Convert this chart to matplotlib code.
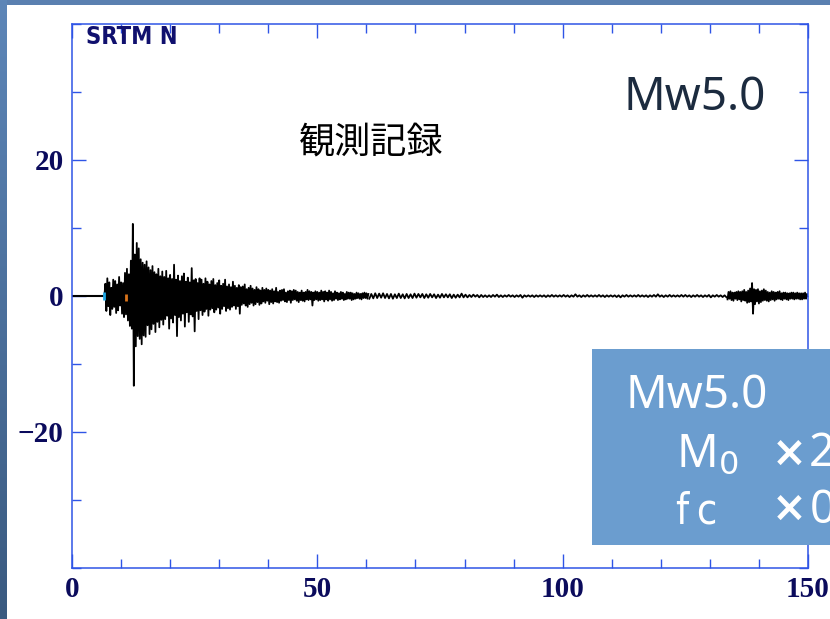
import numpy as np
import matplotlib
matplotlib.use('Agg')
import matplotlib.pyplot as plt
from matplotlib import font_manager
from matplotlib.patches import Rectangle
from matplotlib.ticker import MultipleLocator, FixedLocator


# station / component and record info
station = 'SRTM N'
title_jp = '観測記録'
mw_label = 'Mw5.0'

# time axis limits and ticks (s)
x_lim = [0, 150]
x_major = [0, 50, 100, 150]
y_lim = [-40, 40]
y_major = [-20, 0, 20]

# phase picks (s)
p_time = 6.5
s_time = 11.0

# quiet part before the P arrival
pre_t = [0.0, 6.6]
pre_v = [0.0, 0.0]

# main shaking, sampled every 0.2 s from 6.6 s
main_t0 = 6.6
main_dt = 0.2
main_v = [
    0.0, 1.8, -2.2, 2.6, -1.5, 2.0, -2.8, 1.2, -1.9, 2.4,
    -1.6, 2.2, -2.5, 1.7, -2.1, 2.8, -1.4, 2.0, -2.6, 1.9,
    -3.1, 3.4, -2.7, 4.0, -3.6, 3.2, -4.4, 5.2, -4.8, 10.6,
    -13.2, 6.1, -7.4, 7.8, -5.9, 7.0, -6.3, 5.4, -7.1, 4.9,
    -5.8, 4.6, -6.0, 5.1, -4.3, 4.2, -5.6, 3.8, -4.9, 4.4,
    -4.1, 3.5, -5.3, 3.2, -3.8, 4.0, -4.6, 2.9, -3.5, 3.6,
    -4.2, 2.8, -3.4, 3.7, -2.9, 2.6, -4.8, 3.1, -3.3, 2.5,
    -3.9, 4.6, -2.8, 2.4, -5.9, 3.0, -3.1, 2.2, -3.6, 2.9,
    -2.6, 3.3, -4.5, 2.1, -2.4, 2.7, -3.8, 2.0, -2.7, 4.1,
    -3.0, 2.3, -5.2, 2.5, -2.2, 1.9, -3.4, 2.6, -2.1, 2.4,
    -2.8, 1.8, -2.3, 2.6, -1.9, 2.1, -2.9, 1.7, -2.0, 2.2,
    -1.8, 2.5, -2.4, 1.6, -2.0, 1.9, -1.7, 2.3, -2.6, 1.5,
    -1.9, 1.8, -1.5, 2.4, -2.2, 1.4, -1.8, 1.7, -2.0, 1.3,
    -1.6, 2.1, -1.4, 1.5, -1.9, 1.2, -1.5, 1.6, -2.6, 1.3,
    -1.3, 1.4, -1.1, 1.7, -1.4, 1.0, -1.6, 1.2, -1.2, 1.5,
    -1.0, 1.1, -1.4, 0.9, -1.2, 1.3, -0.9, 1.0, -1.3, 0.8,
    -1.1, 1.2, -0.8, 0.9, -1.0, 1.1, -0.7, 0.9, -1.2, 0.8,
    -0.9, 1.0, -1.1, 0.7, -0.8, 1.2, -0.9, 0.6, -1.0, 0.8,
    -0.7, 0.9, -0.6, 1.0, -0.8, 0.5, -0.9, 0.7, -0.6, 0.8,
    -1.0, 0.7, -0.6, 0.9, -0.5, 0.8, -0.7, 0.6, -0.9, 0.5,
    -0.6, 0.8, -0.7, 0.5, -0.8, 0.6, -0.5, 0.9, -0.6, 0.7,
    -0.5, 0.6, -1.4, 0.5, -0.6, 0.7, -0.5, 0.6, -0.7, 0.5,
    -0.6, 0.8, -0.5, 0.6, -0.8, 0.7, -0.5, 0.5, -0.7, 0.8,
    -0.5, 0.6, -0.7, 0.4, -0.6, 0.7, -0.4, 0.5, -0.6, 0.4,
    -0.5, 0.6, -0.4, 0.5, -0.6, 0.3, -0.5, 0.6, -0.4, 0.5,
    -0.4, 0.5, -0.6, 0.4, -0.5, 0.3, -0.4, 0.5, -0.3, 0.4,
    -0.4, 0.3, -0.5, 0.4, -0.3, 0.5, -0.3, 0.4, -0.4, 0.3,
]

# coda, every 0.4 s from 60.6 s
coda_t0 = 60.6
coda_dt = 0.4
coda_v = [
    -0.4, 0.3, -0.35, 0.4, -0.3, 0.35, -0.25, 0.4, -0.3, 0.3,
    -0.35, 0.3, -0.4, 0.25, -0.3, 0.35, -0.3, 0.25, -0.35, 0.3,
    -0.3, 0.25, -0.3, 0.35, -0.25, 0.3, -0.2, 0.3, -0.3, 0.25,
    -0.25, 0.3, -0.2, 0.25, -0.3, 0.2, -0.25, 0.3, -0.2, 0.25,
    -0.2, 0.25, -0.3, 0.2, -0.25, 0.2, -0.2, 0.35, -0.2, 0.2,
    -0.2, 0.15, -0.15, 0.2, -0.1, 0.15, -0.2, 0.15, -0.15, 0.1,
    -0.15, 0.1, -0.15, 0.15, -0.1, 0.2, -0.15, 0.1, -0.15, 0.1,
    -0.1, 0.15, -0.1, 0.1, -0.15, 0.1, -0.1, 0.15, -0.25, 0.1,
    -0.1, 0.1, -0.1, 0.1, -0.15, 0.1, -0.1, 0.1, -0.1, 0.1,
    -0.15, 0.1, -0.1, 0.15, -0.1, 0.1, -0.1, 0.1, -0.1, 0.15,
    -0.1, 0.1, -0.15, 0.1, -0.1, 0.25, -0.1, 0.1, -0.15, 0.1,
    -0.1, 0.15, -0.1, 0.1, -0.1, 0.1, -0.1, 0.15, -0.1, 0.1,
    -0.15, 0.1, -0.1, 0.1, -0.1, 0.1, -0.15, 0.1, -0.2, 0.1,
    -0.1, 0.15, -0.1, 0.1, -0.1, 0.1, -0.1, 0.15, -0.1, 0.1,
    -0.1, 0.1, -0.15, 0.1, -0.1, 0.15, -0.1, 0.25, -0.1, 0.1,
    -0.15, 0.1, -0.1, 0.15, -0.1, 0.1, -0.1, 0.1, -0.1, 0.15,
    -0.1, 0.15, -0.1, 0.1, -0.15, 0.1, -0.1, 0.15, -0.1, 0.1,
    -0.15, 0.1, -0.1, 0.15, -0.2, 0.1, -0.1, 0.15, -0.1, 0.1,
    -0.15, 0.1, -0.2,
]

# second event near the end, every 0.2 s from 133.6 s
late_t0 = 133.6
late_dt = 0.2
late_v = [
    -0.5, 0.6, -0.4, 0.7, -0.6, 0.5, -0.7, 0.5, -0.4, 0.6,
    -0.6, 0.7, -0.5, 0.6, -0.8, 0.7, -0.6, 0.9, -0.7, 0.6,
    -1.0, 0.8, -0.9, 1.1, -0.8, 1.9, -2.6, 1.0, -1.2, 0.9,
    -0.8, 1.0, -1.1, 0.7, -0.9, 0.8, -0.7, 1.0, -0.6, 0.8,
    -0.7, 0.6, -0.8, 0.5, -0.6, 0.7, -0.5, 0.6, -0.7, 0.5,
    -0.5, 0.6, -0.4, 0.7, -0.5, 0.4, -0.6, 0.5, -0.4, 0.5,
    -0.5, 0.4, -0.6, 0.4, -0.4, 0.5, -0.4, 0.5, -0.5, 0.4,
    -0.4, 0.5, -0.4, 0.4, -0.5, 0.4, -0.5, 0.4, -0.4, 0.5,
    -0.4, 0.3, 0.0,
]

# info box lines
box_title = 'Mw5.0'
box_m0 = r'M$_0$'
box_fc = 'f\u2009c'
box_mult = '×'
box_m0_fac = '2'
box_fc_fac = '0'

W, H = 830, 619
frame_blue = '#2f55e6'
label_navy = '#0b0b5c'


def seg_times(t0, dt, vals):
    return t0 + dt * np.arange(len(vals))


def narrow_font():
    # first narrow / condensed face available, else plain DejaVu
    for f in font_manager.fontManager.ttflist:
        if 'Narrow' in f.name or 'Condensed' in f.name:
            return f.name, 'normal'
        if f.stretch == 'condensed':
            return f.name, 'condensed'
    return 'DejaVu Sans', 'normal'


narrow_name, narrow_stretch = narrow_font()

fig = plt.figure(figsize=(W / 100, H / 100), dpi=100, facecolor='white')

# slide edge: gradient strip on the left, flat strip along the top
strip = fig.add_axes([0, 0, 6 / W, 1])
grad = np.linspace(0, 1, 256).reshape(-1, 1)
cmap = matplotlib.colors.LinearSegmentedColormap.from_list('edge', ['#5d86b8', '#3a5a80'])
strip.imshow(grad, aspect='auto', cmap=cmap, extent=[0, 1, 0, 1], origin='upper')
strip.set_axis_off()
fig.add_artist(Rectangle((0, 1 - 5 / H), 1, 5 / H, transform=fig.transFigure,
                         facecolor='#5a80b0', edgecolor='none', zorder=0))

ax = fig.add_axes([72 / W, (H - 568) / H, (808 - 72) / W, (568 - 24) / H])

ax.plot(pre_t, pre_v, color='black', lw=1.5)
ax.plot(seg_times(main_t0, main_dt, main_v), main_v, color='black', lw=1.3)
ax.plot(seg_times(coda_t0, coda_dt, coda_v), coda_v, color='black', lw=1.3)
ax.plot(seg_times(late_t0, late_dt, late_v), late_v, color='black', lw=1.3)
ax.vlines([p_time], -0.6, 0.6, color='#1ea7e6', lw=2.0, zorder=3)
ax.vlines([s_time], -0.7, 0.3, color='#d9731a', lw=2.0, zorder=3)

ax.set_xlim(x_lim)
ax.set_ylim(y_lim)
ax.xaxis.set_major_locator(FixedLocator(x_major))
ax.xaxis.set_minor_locator(MultipleLocator(10))
ax.yaxis.set_major_locator(FixedLocator(y_major))
ax.yaxis.set_minor_locator(MultipleLocator(10))

for sp in ax.spines.values():
    sp.set_color(frame_blue)
    sp.set_linewidth(1.1)
ax.tick_params(which='both', direction='in', top=True, right=True,
               color=frame_blue, width=1.0, labelcolor=label_navy)
ax.tick_params(which='major', length=10, pad=6)
ax.tick_params(which='minor', length=6.5)
for lab in ax.get_xticklabels() + ax.get_yticklabels():
    lab.set_fontfamily('Liberation Serif')
    lab.set_fontweight('bold')
    lab.set_fontsize(21)

ax.text(0.019, 0.999, station, transform=ax.transAxes, ha='left', va='top',
        fontsize=17, fontweight='bold', color='#10106e',
        family=[narrow_name, 'DejaVu Sans'], fontstretch=narrow_stretch)
ax.text(0.407, 0.782, title_jp, transform=ax.transAxes, ha='center', va='center',
        fontsize=26, color='black', family=['Noto Sans CJK JP', 'DejaVu Sans'])
fig.text(623 / W, 1 - 110 / H, mw_label, ha='left', va='baseline',
         fontsize=33, color='#1c2b3f', family='Noto Sans')

# info box over the lower right corner
fig.add_artist(Rectangle((592 / W, (H - 545) / H), (W - 592) / W, (545 - 349) / H,
                         transform=fig.transFigure, facecolor='#6b9dcf',
                         edgecolor='none', zorder=5))
box_txt = dict(ha='left', va='baseline', color='white', zorder=6)
fig.text(626 / W, 1 - 408 / H, box_title, fontsize=33, family='Noto Sans', **box_txt)
fig.text(676 / W, 1 - 466 / H, box_m0, fontsize=33, family='Noto Sans', **box_txt)
fig.text(676 / W, 1 - 523 / H, box_fc, fontsize=30,
         family=[narrow_name, 'DejaVu Sans'], fontstretch=narrow_stretch, **box_txt)
fig.text(772 / W, 1 - 466 / H, box_mult, fontsize=30, fontweight='bold',
         family='DejaVu Sans', **box_txt)
fig.text(772 / W, 1 - 521 / H, box_mult, fontsize=30, fontweight='bold',
         family='DejaVu Sans', **box_txt)
fig.text(809 / W, 1 - 466 / H, box_m0_fac, fontsize=33, family='Noto Sans', **box_txt)
fig.text(810 / W, 1 - 523 / H, box_fc_fac, fontsize=33, family='Noto Sans', **box_txt)

fig.savefig('out.png', dpi=100, facecolor=fig.get_facecolor())
